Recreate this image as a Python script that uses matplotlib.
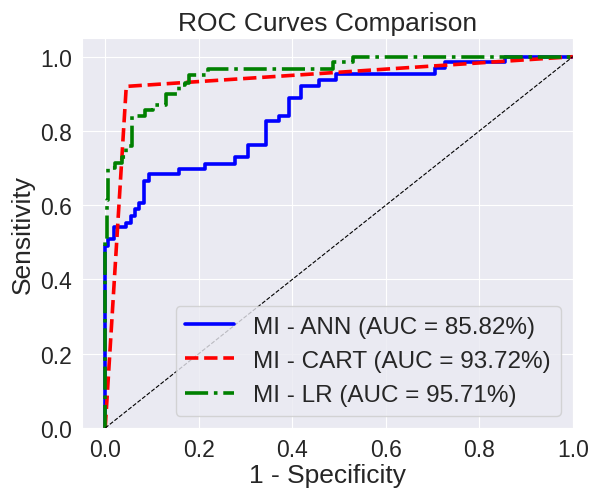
import matplotlib
matplotlib.use("Agg")
from matplotlib import pyplot as plt
import seaborn as sns

# ROC points
ann_fpr = [0, 0, 0.007, 0.007, 0.018, 0.018, 0.045, 0.045, 0.055, 0.055, 0.064, 0.064,
           0.073, 0.073, 0.082, 0.082, 0.093, 0.093, 0.157, 0.157, 0.214, 0.214,
           0.278, 0.278, 0.306, 0.306, 0.343, 0.343, 0.372, 0.372, 0.393, 0.393,
           0.418, 0.418, 0.457, 0.457, 0.493, 0.493, 0.705, 0.705, 0.726, 0.726,
           0.855, 0.855, 1.0]
ann_tpr = [0, 0.49, 0.49, 0.508, 0.508, 0.54, 0.54, 0.553, 0.553, 0.571, 0.571, 0.589,
           0.589, 0.607, 0.607, 0.665, 0.665, 0.683, 0.683, 0.698, 0.698, 0.712,
           0.712, 0.73, 0.73, 0.761, 0.761, 0.826, 0.826, 0.841, 0.841, 0.889,
           0.889, 0.92, 0.92, 0.938, 0.938, 0.953, 0.953, 0.97, 0.97, 0.985,
           0.985, 1.0, 1.0]

cart_fpr = [0, 0.045, 1.0]
cart_tpr = [0, 0.92, 1.0]

lr_fpr = [0, 0, 0.003, 0.003, 0.007, 0.007, 0.02, 0.02, 0.035, 0.035, 0.045, 0.045,
          0.057, 0.057, 0.085, 0.085, 0.103, 0.103, 0.13, 0.13, 0.157, 0.157,
          0.171, 0.171, 0.18, 0.18, 0.22, 0.22, 0.487, 0.487, 0.53, 0.53, 1.0]
lr_tpr = [0, 0.51, 0.51, 0.615, 0.615, 0.70, 0.70, 0.713, 0.713, 0.73, 0.73, 0.76,
          0.76, 0.84, 0.84, 0.857, 0.857, 0.87, 0.87, 0.90, 0.90, 0.925,
          0.925, 0.93, 0.93, 0.95, 0.95, 0.968, 0.968, 0.985, 0.985, 1.0, 1.0]

labels = ["MI - ANN (AUC = 85.82%)", "MI - CART (AUC = 93.72%)", "MI - LR (AUC = 95.71%)"]

sns.set_style("darkgrid")
plt.rcParams['font.family'] = ['Liberation Sans', 'DejaVu Sans']

fig = plt.figure(figsize=(5.93, 4.89), dpi=100)
ax = fig.add_axes([0.138, 0.1227, 0.828, 0.7973])

ax.plot(ann_fpr, ann_tpr, color="blue", lw=2.6, label=labels[0])
ax.plot(cart_fpr, cart_tpr, color="red", lw=2.6, ls="--", label=labels[1])
ax.plot(lr_fpr, lr_tpr, color="green", lw=2.6, ls="-.", label=labels[2])
ax.plot([0, 1], [0, 1], color="black", lw=0.8, ls="--")

ax.set_xlim(-0.05, 1.0)
ax.set_ylim(0.0, 1.05)
ax.tick_params(labelsize=16.5)
ax.set_xlabel("1 - Specificity", fontsize=19, labelpad=2)
ax.set_ylabel("Sensitivity", fontsize=19)
ax.set_title("ROC Curves Comparison", fontsize=19)
ax.legend(loc="lower right", fontsize=17.5)

plt.savefig("out.png")
